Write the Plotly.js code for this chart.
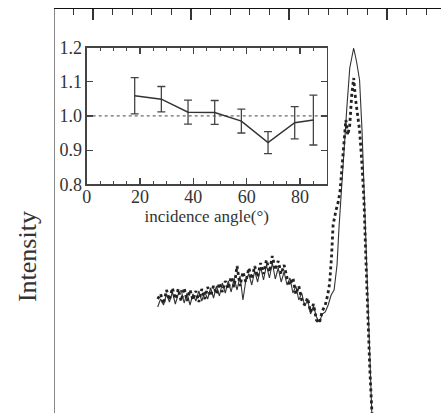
<!DOCTYPE html>
<html>
<head>
<meta charset="utf-8">
<script src="https://cdn.plot.ly/plotly-3.0.1.min.js"></script>
<style>html,body{margin:0;padding:0;background:#fff;}#chart{width:441px;height:413px;}</style>
</head>
<body>
<div id="chart"></div>
<script>
// Main spectra (arbitrary units)
const specX_solid = [6.6,6.9,7.2,7.5,7.8,8.1,8.4,8.7,9.0,9.3,9.6,9.9,10.2,10.5,10.8,11.1,11.4,11.7,12.0,12.3,12.6,12.9,13.2,13.5,13.8,14.1,14.4,14.7,15.0,15.3,15.6,15.9,16.2,16.5,16.8,17.1,17.4,17.7,18.0,18.3,18.6,18.9,19.2,19.5,19.8,20.1,20.4,20.7,21.0,21.3,21.6,21.9,22.2,22.5,22.8,23.1,23.4,23.7,24.0,24.3,24.6,24.9,25.1,25.3,25.5,25.7,25.9,26.2,26.6,26.9,27.2,27.45,27.65,27.85,28.05,28.25,28.45,28.7];
const specY_solid = [1.06,1.14,1.08,1.19,1.11,1.21,1.09,1.19,1.23,1.10,1.20,1.08,1.19,1.12,1.22,1.12,1.21,1.14,1.25,1.15,1.27,1.17,1.30,1.20,1.32,1.21,1.35,1.23,1.37,1.13,1.33,1.39,1.28,1.42,1.31,1.46,1.33,1.48,1.35,1.50,1.34,1.45,1.31,1.41,1.28,1.35,1.20,1.27,1.13,1.20,1.07,1.13,0.99,1.07,0.96,0.91,0.99,1.01,1.08,1.18,1.23,1.48,1.85,2.18,2.48,2.78,3.05,3.45,3.65,3.51,3.33,2.83,2.23,1.63,1.03,0.53,0.00,-0.40];
const specX_dot = [6.6,6.9,7.2,7.5,7.8,8.1,8.4,8.7,9.0,9.3,9.6,9.9,10.2,10.5,10.8,11.1,11.4,11.7,12.0,12.3,12.6,12.9,13.2,13.5,13.8,14.1,14.4,14.7,15.0,15.3,15.6,15.9,16.2,16.5,16.8,17.1,17.4,17.7,18.0,18.3,18.6,18.9,19.2,19.5,19.8,20.1,20.4,20.7,21.0,21.3,21.6,21.9,22.2,22.5,22.8,23.1,23.4,23.7,23.95,24.15,24.35,24.5,24.8,25.0,25.2,25.4,25.6,25.8,26.0,26.2,26.4,26.6,26.8,27.0,27.2,27.45,27.65,27.85,28.05,28.25,28.45,28.7];
const specY_dot = [1.14,1.19,1.09,1.23,1.13,1.25,1.14,1.24,1.12,1.25,1.12,1.23,1.13,1.22,1.11,1.24,1.14,1.26,1.17,1.27,1.19,1.30,1.21,1.32,1.24,1.36,1.26,1.47,1.27,1.41,1.31,1.45,1.34,1.47,1.36,1.50,1.39,1.53,1.41,1.57,1.43,1.52,1.39,1.48,1.35,1.28,1.35,1.19,1.27,1.13,1.08,1.15,1.01,1.09,0.93,0.90,1.02,1.08,1.18,1.30,1.58,1.88,2.03,2.10,2.21,2.48,2.73,2.93,2.78,2.88,3.18,3.35,3.13,2.95,2.83,2.48,2.13,1.53,0.93,0.43,0.03,-0.37];

// Inset: ratio vs incidence angle
const angles = [18, 28, 38, 48, 58, 68, 78, 85];
const ratio  = [1.059, 1.049, 1.011, 1.010, 0.985, 0.922, 0.980, 0.988];
const ratioErr = [0.053, 0.037, 0.035, 0.035, 0.035, 0.032, 0.047, 0.073];
const refX = [0, 90];
const refY = [1.0, 1.0];

const serif = 'Liberation Serif, Times New Roman, serif';

const traces = [
  {x: specX_solid, y: specY_solid, type: 'scatter', mode: 'lines', xaxis: 'x', yaxis: 'y',
   line: {color: '#333', width: 1.1}, hoverinfo: 'skip'},
  {x: specX_dot, y: specY_dot, type: 'scatter', mode: 'lines', xaxis: 'x', yaxis: 'y',
   line: {color: '#222', width: 2.8, dash: 'dot'}, hoverinfo: 'skip'},
  {x: refX, y: refY, type: 'scatter', mode: 'lines', xaxis: 'x2', yaxis: 'y2',
   line: {color: '#444', width: 1, dash: 'dot'}},
  {x: angles, y: ratio, type: 'scatter', mode: 'lines', xaxis: 'x2', yaxis: 'y2',
   line: {color: '#333', width: 1.5},
   error_y: {type: 'data', array: ratioErr, visible: true, color: '#444', thickness: 1.3, width: 4}}
];

const layout = {
  width: 441, height: 413,
  margin: {l: 55, r: 0, t: 9, b: 0},
  paper_bgcolor: '#fff', plot_bgcolor: 'rgba(0,0,0,0)',
  showlegend: false,
  font: {family: serif, color: '#333'},
  xaxis: {
    domain: [0, 1], range: [-3.878, 35.51], side: 'top', anchor: 'y',
    showline: true, linecolor: '#111', linewidth: 1.5, mirror: false,
    ticks: 'inside', tick0: 0, dtick: 10, ticklen: 11, tickcolor: '#333', tickwidth: 1.2,
    minor: {dtick: 2, ticks: 'inside', ticklen: 6, tickcolor: '#333', tickwidth: 1},
    showticklabels: false, showgrid: false, zeroline: false
  },
  yaxis: {
    domain: [0, 1], range: [0, 4.04], anchor: 'x',
    showline: true, linecolor: '#888', linewidth: 1.5,
    ticks: '', showticklabels: false, showgrid: false, zeroline: false
  },
  xaxis2: {
    domain: [0.0821, 0.7039], range: [0, 90], anchor: 'y2',
    showline: true, linecolor: '#444', linewidth: 1.2, mirror: 'allticks',
    ticks: 'inside', tick0: 0, dtick: 20, ticklen: 6, tickcolor: '#444', tickwidth: 1.2,
    minor: {dtick: 5, ticks: 'inside', ticklen: 3, tickcolor: '#444', tickwidth: 1},
    tickfont: {family: serif, size: 18, color: '#333'}, ticklabelstandoff: -4,
    title: {text: 'incidence angle(°)', font: {family: serif, size: 17, color: '#333'}, standoff: 0},
    showgrid: false, zeroline: false
  },
  yaxis2: {
    domain: [0.566, 0.9047], range: [0.8, 1.2], anchor: 'x2',
    showline: true, linecolor: '#444', linewidth: 1.2, mirror: 'allticks',
    ticks: 'inside', tick0: 0.8, dtick: 0.1, ticklen: 6, tickcolor: '#444', tickwidth: 1.2,
    tickformat: '.1f', tickfont: {family: serif, size: 18, color: '#333'},
    showgrid: false, zeroline: false
  },
  annotations: [{
    text: 'Intensity', textangle: -90, xref: 'paper', yref: 'paper',
    x: -0.0725, y: 0.386, xanchor: 'center', yanchor: 'middle', showarrow: false,
    font: {family: serif, size: 26, color: '#333'}
  }]
};

Plotly.newPlot('chart', traces, layout, {staticPlot: true, displayModeBar: false});
</script>
</body>
</html>
